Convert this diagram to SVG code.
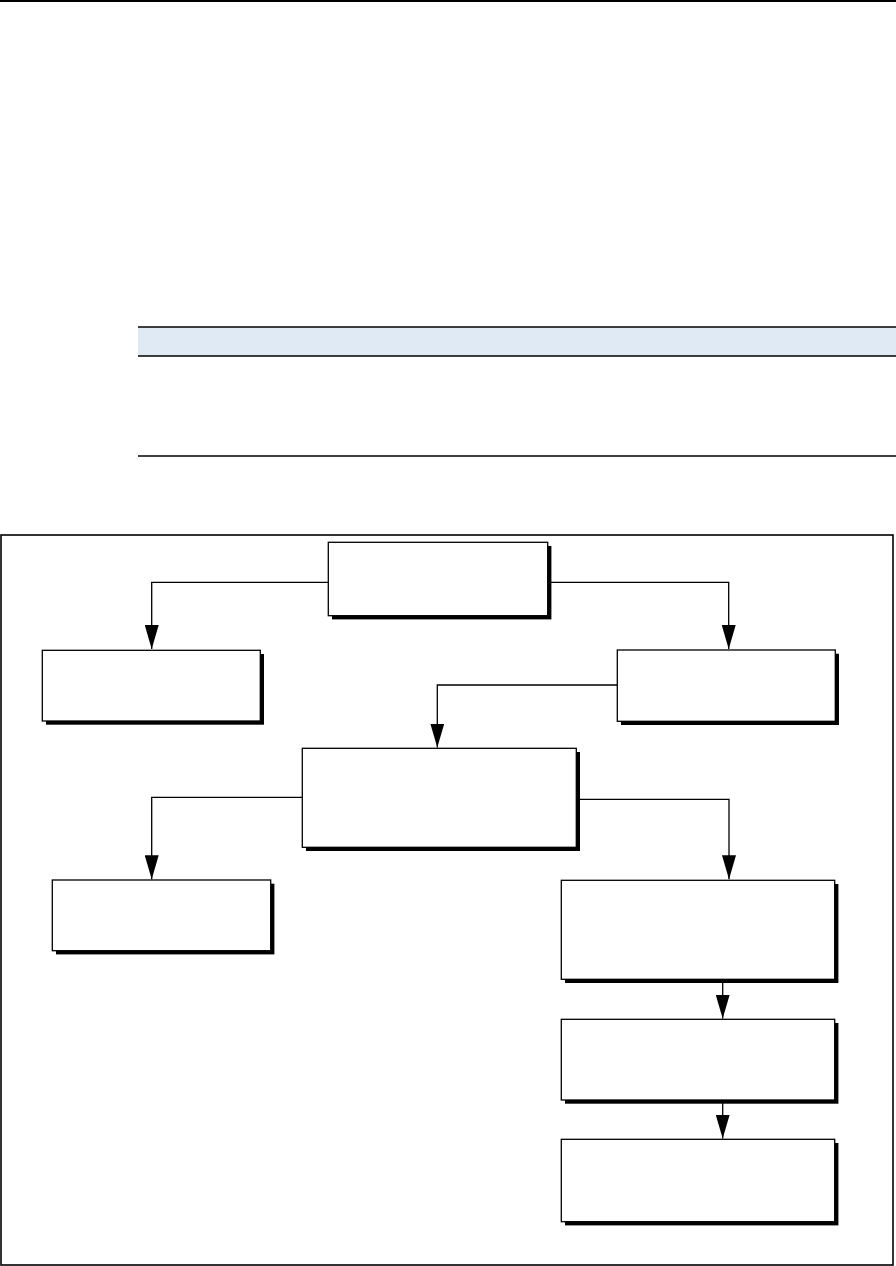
<svg xmlns="http://www.w3.org/2000/svg" width="896" height="1266" viewBox="0 0 896 1266">
<style>
.sh{fill:#000}
.bx{fill:#fff;stroke:#000;stroke-width:1.3}
.cn{fill:none;stroke:#000;stroke-width:1.3}
.rule{stroke:#000;stroke-width:1.5}
</style>
<defs>
<marker id="ah" viewBox="0 0 24 14" refX="24" refY="7" markerWidth="24" markerHeight="14" markerUnits="userSpaceOnUse" orient="auto">
<path d="M0,0 L24,7 L0,14 Z" fill="#000"/>
</marker>
</defs>
<rect width="896" height="1266" fill="#fff"/>
<rect x="0" y="0" width="896" height="2" fill="#000"/>
<g id="table">
<rect x="138" y="327" width="758" height="29" fill="#dfeaf5"/>
<line class="rule" x1="138" y1="327" x2="896" y2="327"/>
<line class="rule" x1="138" y1="356" x2="896" y2="356"/>
<line class="rule" x1="138" y1="456" x2="896" y2="456"/>
</g>
<rect id="frame" x="1" y="535" width="892" height="730" fill="none" stroke="#000" stroke-width="1.6"/>
<g id="connectors">
<path class="cn" d="M328,582.3 H151.7 V649" marker-end="url(#ah)"/>
<path class="cn" d="M548,582.3 H728.7 V649" marker-end="url(#ah)"/>
<path class="cn" d="M617.3,685 H437.3 V747.5" marker-end="url(#ah)"/>
<path class="cn" d="M302.3,797.3 H151.7 V879.3" marker-end="url(#ah)"/>
<path class="cn" d="M576.3,799.3 H729 V879.3" marker-end="url(#ah)"/>
<path class="cn" d="M722.7,980 V1018.6" marker-end="url(#ah)"/>
<path class="cn" d="M722.7,1100.5 V1138.6" marker-end="url(#ah)"/>
</g>
<g id="n1"><rect class="sh" x="332" y="546" width="219.4" height="73.4"/><rect class="bx" x="328.3" y="542.3" width="219.4" height="73.4"/></g>
<g id="n2"><rect class="sh" x="46" y="654" width="218" height="70.7"/><rect class="bx" x="42.3" y="650.3" width="218" height="70.7"/></g>
<g id="n3"><rect class="sh" x="621" y="653.7" width="218" height="71.3"/><rect class="bx" x="617.3" y="650" width="218" height="71.3"/></g>
<g id="n4"><rect class="sh" x="306" y="752" width="274" height="99"/><rect class="bx" x="302.3" y="748.3" width="274" height="99"/></g>
<g id="n5"><rect class="sh" x="56" y="883.7" width="218.4" height="70.7"/><rect class="bx" x="52.3" y="880" width="218.4" height="70.7"/></g>
<g id="n6"><rect class="sh" x="565" y="884" width="273.4" height="99"/><rect class="bx" x="561.3" y="880.3" width="273.4" height="99"/></g>
<g id="n7"><rect class="sh" x="565" y="1023" width="273.4" height="80.7"/><rect class="bx" x="561.3" y="1019.3" width="273.4" height="80.7"/></g>
<g id="n8"><rect class="sh" x="565" y="1143" width="273.4" height="82.4"/><rect class="bx" x="561.3" y="1139.3" width="273.4" height="82.4"/></g>
</svg>
